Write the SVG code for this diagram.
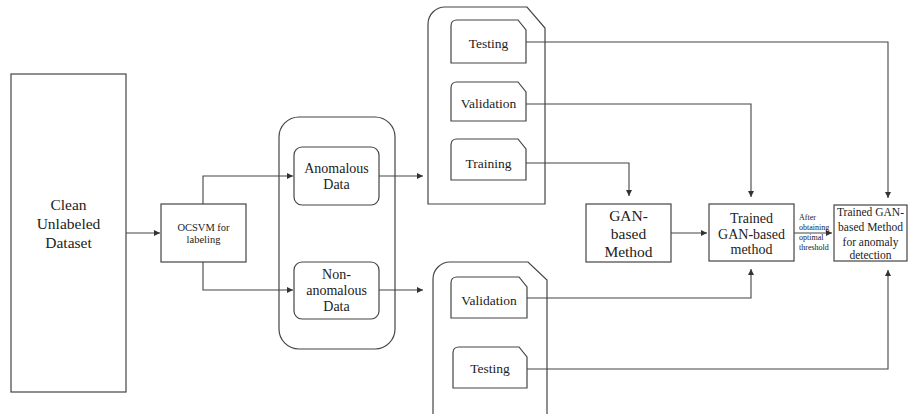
<svg xmlns="http://www.w3.org/2000/svg" width="909" height="414" viewBox="0 0 909 414" font-family="'Liberation Serif', 'DejaVu Serif', 'Times New Roman', serif">
  <defs>
    <marker id="arrow" markerUnits="userSpaceOnUse" markerWidth="7" markerHeight="7" refX="6" refY="3" orient="auto">
      <path d="M0,0 L6,3 L0,6 Z" fill="#333"/>
    </marker>
    <style>
      .box { fill: #fff; stroke: #444; stroke-width: 1.2; }
      .wrap { fill: none; stroke: #444; stroke-width: 1.2; }
      .edge { fill: none; stroke: #444; stroke-width: 1.1; }
      .arr { marker-end: url(#arrow); }
      text { font-family: 'Liberation Serif', 'DejaVu Serif', serif; fill: #222; text-anchor: middle; }
      .big { font-size: 15.5px; }
      .mid { font-size: 14px; }
      .tab { font-size: 13.5px; }
      .sm { font-size: 10.5px; }
      .xs { font-size: 8px; text-anchor: start; }
      .det { font-size: 11.5px; }
    </style>
  </defs>

  <!-- connectors -->
  <g id="connectors">
    <path class="edge arr" d="M126,233 L160,233"/>
    <path class="edge arr" d="M203,204 L203,176 L293,176"/>
    <path class="edge arr" d="M203,262 L203,290 L293,290"/>
    <path class="edge arr" d="M379,176 L423,176"/>
    <path class="edge arr" d="M379,290 L423,290"/>
    <path class="edge arr" d="M526,42 L888,42 L888,198"/>
    <path class="edge arr" d="M526,104 L751,104 L751,197"/>
    <path class="edge arr" d="M526,163 L629,163 L629,196"/>
    <path class="edge arr" d="M671,233 L707,233"/>
    <path class="edge arr" d="M794,233 L832,233"/>
    <path class="edge arr" d="M527,298 L751,298 L751,269"/>
    <path class="edge arr" d="M527,369 L888,369 L888,270"/>
  </g>

  <!-- source data -->
  <g id="dataset">
    <rect class="box" x="11" y="74" width="115" height="318"/>
    <text class="big" x="68.5" y="210">Clean</text>
    <text class="big" x="68.5" y="229">Unlabeled</text>
    <text class="big" x="68.5" y="248">Dataset</text>
  </g>

  <g id="ocsvm">
    <rect class="box" x="161" y="204" width="85" height="58"/>
    <text class="sm" x="203.5" y="231">OCSVM for</text>
    <text class="sm" x="203.5" y="243">labeling</text>
  </g>

  <!-- labelled split -->
  <g id="split-group">
    <rect class="wrap" x="279" y="117" width="116" height="232" rx="20" ry="20"/>
  </g>
  <g id="anomalous">
    <rect class="box" x="294" y="147" width="85" height="58" rx="8" ry="8"/>
    <text class="mid" x="336.5" y="173">Anomalous</text>
    <text class="mid" x="336.5" y="189">Data</text>
  </g>
  <g id="non-anomalous">
    <rect class="box" x="294" y="262" width="85" height="57" rx="8" ry="8"/>
    <text class="mid" x="336.5" y="279">Non-</text>
    <text class="mid" x="336.5" y="295">anomalous</text>
    <text class="mid" x="336.5" y="311">Data</text>
  </g>

  <!-- anomalous data splits -->
  <g id="anomalous-splits">
    <path class="wrap" d="M428,204 L428,24 A17,17 0 0 1 445,7 L527,7 L545,28 L545,204 Z"/>
  </g>
  <g id="testing-a">
    <path class="box" d="M451,63 L451,26 Q451,20 457,20 L518,20 L526,30 L526,63 Z"/>
    <text class="tab" x="488.5" y="48">Testing</text>
  </g>
  <g id="validation-a">
    <path class="box" d="M451,121 L451,88 Q451,82 457,82 L518,82 L526,92 L526,121 Z"/>
    <text class="tab" x="488.5" y="108">Validation</text>
  </g>
  <g id="training">
    <path class="box" d="M451,180 L451,145 Q451,139 457,139 L518,139 L526,149 L526,180 Z"/>
    <text class="tab" x="488.5" y="168">Training</text>
  </g>

  <!-- non-anomalous data splits -->
  <g id="normal-splits">
    <path class="wrap" d="M433,420 L433,279 A17,17 0 0 1 450,262 L528,262 L547,280 L547,420"/>
  </g>
  <g id="validation-n">
    <path class="box" d="M451,318 L451,283 Q451,277 457,277 L519,277 L527,287 L527,318 Z"/>
    <text class="tab" x="489" y="305">Validation</text>
  </g>
  <g id="testing-n">
    <path class="box" d="M453,388 L453,353 Q453,347 459,347 L519,347 L527,357 L527,388 Z"/>
    <text class="tab" x="490" y="373">Testing</text>
  </g>

  <!-- models -->
  <g id="gan">
    <rect class="box" x="586" y="204" width="85" height="58"/>
    <text class="big" x="628.5" y="221">GAN-</text>
    <text class="big" x="628.5" y="239">based</text>
    <text class="big" x="628.5" y="257">Method</text>
  </g>
  <g id="trained">
    <rect class="box" x="709" y="204" width="85" height="57"/>
    <text class="mid" x="751.5" y="223">Trained</text>
    <text class="mid" x="751.5" y="239">GAN-based</text>
    <text class="mid" x="751.5" y="254">method</text>
  </g>
  <g id="threshold-label">
    <text class="xs" x="799" y="220">After</text>
    <text class="xs" x="799" y="230">obtaining</text>
    <text class="xs" x="799" y="240">optimal</text>
    <text class="xs" x="799" y="250">threshold</text>
  </g>
  <g id="detector">
    <rect class="box" x="834" y="205" width="73" height="56"/>
    <text class="det" x="870.5" y="216">Trained GAN-</text>
    <text class="det" x="870.5" y="231">based Method</text>
    <text class="det" x="870.5" y="246">for anomaly</text>
    <text class="det" x="870.5" y="259">detection</text>
  </g>
</svg>
